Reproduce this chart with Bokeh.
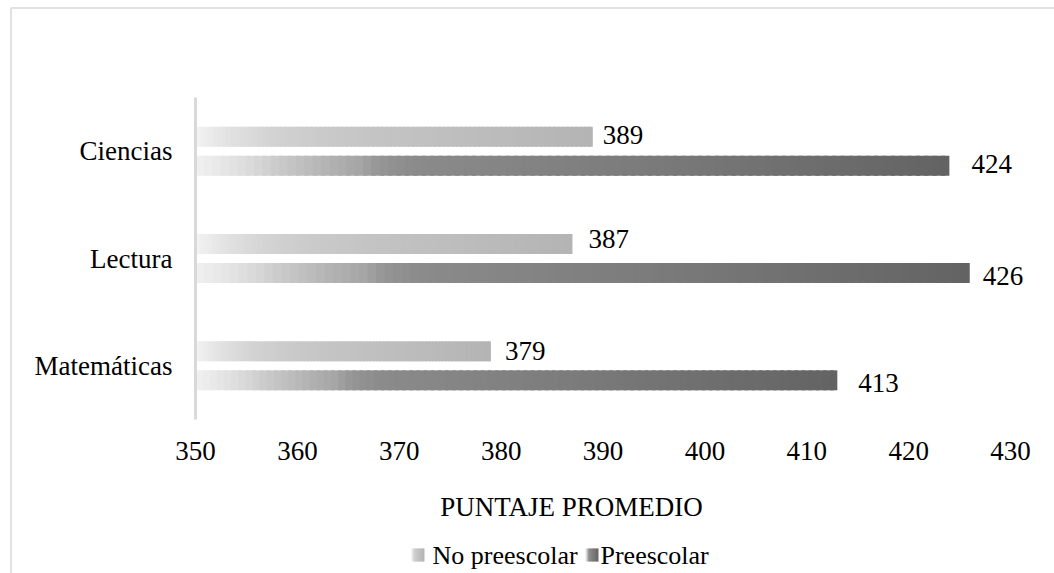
from bokeh.plotting import figure
from bokeh.models import (ColumnDataSource, Range1d, FixedTicker, LabelSet,
                          BoxAnnotation, Label)
from bokeh.embed import file_html
from bokeh.resources import INLINE

# ---- data -------------------------------------------------------------
categories = ["Matemáticas", "Lectura", "Ciencias"]   # bottom -> top
no_preescolar = [379, 387, 389]
preescolar = [413, 426, 424]
series_names = ["No preescolar", "Preescolar"]
x_ticks = [350, 360, 370, 380, 390, 400, 410, 420, 430]
x_title = "PUNTAJE PROMEDIO"

# ---- geometry / styling -------------------------------------------------
FONT = "Liberation Serif"
FS = "27px"
FS_LEGEND = "26px"
X0, X1 = 350, 430
W, H = 1054, 573
# pixel box of the plotting area (value axis 350..430, three category rows)
AREA_L, AREA_R, AREA_T, AREA_B = 195, 1010, 97, 419

# gray gradient stops (fraction along the bar, gray level)
light_stops = [(0.0, 243), (0.08, 226), (0.21, 209), (0.34, 201),
               (0.46, 196), (1.0, 180)]
dark_stops = [(0.0, 241), (0.066, 221), (0.11, 202), (0.177, 178),
              (0.216, 166), (0.243, 150), (0.287, 139), (0.575, 124),
              (1.0, 99)]

BAR_H = 0.186       # bar thickness in category units
BAR_SHIFT = 0.135   # offset of each series from the category centre
N_SLICES = 90

px_per_x = (AREA_R - AREA_L) / (X1 - X0)
px_per_y = (AREA_B - AREA_T) / len(categories)


def px2x(px):
    return X0 + (px - AREA_L) / px_per_x


def py2y(py):
    return (AREA_B - py) / px_per_y


def gray_at(stops, t):
    for (t0, g0), (t1, g1) in zip(stops[:-1], stops[1:]):
        if t <= t1:
            f = 0 if t1 == t0 else (t - t0) / (t1 - t0)
            g = round(g0 + (g1 - g0) * f)
            return "#%02x%02x%02x" % (g, g, g)
    g = stops[-1][1]
    return "#%02x%02x%02x" % (g, g, g)


def gradient_slices(start, end, bottom, top, stops, n=N_SLICES):
    """Split a horizontal bar into thin slices shaded along its length.
    Each slice overlaps the next one a little so no seams show."""
    rows = dict(left=[], right=[], bottom=[], top=[], color=[])
    span = end - start
    for i in range(n):
        rows["left"].append(start + span * i / n)
        rows["right"].append(min(end, start + span * (i + 1.5) / n))
        rows["bottom"].append(bottom)
        rows["top"].append(top)
        rows["color"].append(gray_at(stops, (i + 0.5) / n))
    return rows


# the frame covers the whole canvas; axes sit at fixed data locations
p = figure(width=W, height=H, output_backend="svg", toolbar_location=None,
           x_range=Range1d(px2x(0), px2x(W)),
           y_range=Range1d(py2y(H), py2y(0)),
           min_border=0, background_fill_color="white",
           border_fill_color="white")
p.outline_line_color = None
p.xgrid.grid_line_color = None
p.ygrid.grid_line_color = None

# ---- bars ---------------------------------------------------------------
bars = dict(left=[], right=[], bottom=[], top=[], color=[])
for i, cat in enumerate(categories):
    centre = i + 0.5
    for value, shift, stops in ((no_preescolar[i], BAR_SHIFT, light_stops),
                                (preescolar[i], -BAR_SHIFT, dark_stops)):
        yc = centre + shift
        rows = gradient_slices(X0, value, yc - BAR_H / 2, yc + BAR_H / 2, stops)
        for k in bars:
            bars[k].extend(rows[k])

p.quad(left="left", right="right", bottom="bottom", top="top",
       fill_color="color", line_color=None, source=ColumnDataSource(bars))

# ---- value labels -------------------------------------------------------
lab_x, lab_y, lab_t = [], [], []
for i in range(len(categories)):
    lab_x += [no_preescolar[i], preescolar[i]]
    lab_y += [i + 0.5 + BAR_SHIFT, i + 0.5 - BAR_SHIFT]
    lab_t += [str(no_preescolar[i]), str(preescolar[i])]
# hand-placed nudges of each data label (pixels)
lab_dx = [14, 21, 16, 13, 10, 22]
lab_dy = [0, -3, 5, -3, 2, 2]
p.add_layout(LabelSet(x="x", y="y", text="text", x_offset="dx", y_offset="dy",
                      text_font=FONT, text_font_size=FS, text_color="#000000",
                      text_baseline="middle", text_align="left",
                      source=ColumnDataSource(dict(x=lab_x, y=lab_y, text=lab_t,
                                                   dx=lab_dx, dy=lab_dy))))

# ---- axes ---------------------------------------------------------------
xa = p.xaxis[0]
xa.fixed_location = 0
xa.bounds = (X0, X1)
xa.ticker = FixedTicker(ticks=x_ticks)
xa.axis_line_color = None
xa.major_tick_line_color = None
xa.minor_tick_line_color = None
xa.major_label_text_font = FONT
xa.major_label_text_font_size = FS
xa.major_label_text_color = "#000000"
xa.major_label_standoff = 16

ya = p.yaxis[0]
ya.fixed_location = X0
ya.bounds = (0, len(categories))
ya.ticker = FixedTicker(ticks=[i + 0.5 for i in range(len(categories))])
ya.major_label_overrides = {i + 0.5: c for i, c in enumerate(categories)}
ya.axis_line_color = "#d9d9d9"
ya.axis_line_width = 3
ya.major_tick_line_color = None
ya.minor_tick_line_color = None
ya.major_label_standoff = 17
ya.major_label_text_font = FONT
ya.major_label_text_font_size = FS
ya.major_label_text_color = "#000000"

# value-axis title
p.add_layout(Label(x=px2x(571), y=py2y(506), text=x_title, text_font=FONT,
                   text_font_size=FS, text_color="#000000",
                   text_baseline="middle", text_align="center"))

# ---- legend (gradient swatches + names) ---------------------------------
legend_items = [(series_names[0], light_stops, 411, 432),
                (series_names[1], dark_stops, 585, 600)]
SW = 13
swatch = dict(left=[], right=[], bottom=[], top=[], color=[])
for name, stops, sx, tx in legend_items:
    rows = gradient_slices(px2x(sx), px2x(sx + SW), py2y(561), py2y(548),
                           stops, n=10)
    for k in swatch:
        swatch[k].extend(rows[k])
    p.add_layout(Label(x=px2x(tx), y=py2y(555), text=name, text_font=FONT,
                       text_font_size=FS_LEGEND, text_color="#000000",
                       text_baseline="middle", text_align="left"))
p.quad(left="left", right="right", bottom="bottom", top="top",
       fill_color="color", line_color=None, source=ColumnDataSource(swatch))

# ---- chart border -------------------------------------------------------
p.add_layout(BoxAnnotation(left=px2x(10.5), right=px2x(W + 200),
                           top=py2y(7.5), bottom=py2y(H + 200),
                           fill_alpha=0, line_color="#d9d9d9", line_alpha=1,
                           line_width=1.5))

open("out.html", "w").write(file_html(p, INLINE))
